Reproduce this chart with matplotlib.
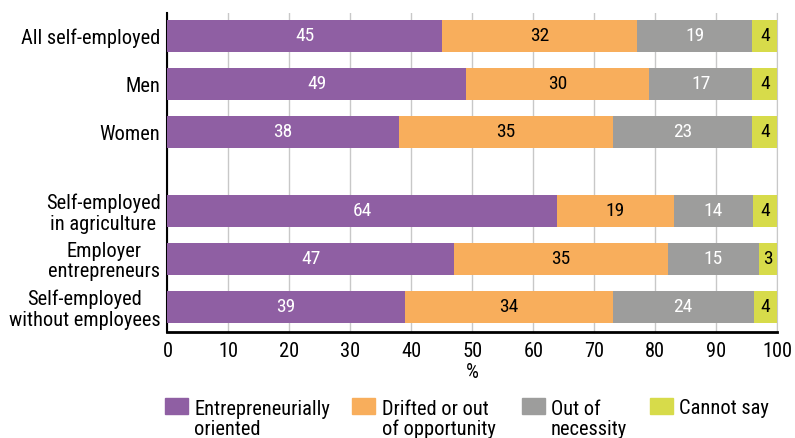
import matplotlib.pyplot as plt
from matplotlib.patches import Rectangle
import numpy as np

plt.rcParams['font.family'] = ['Roboto Condensed', 'DejaVu Sans']

groups = ['All self-employed', 'Men', 'Women',
          'Self-employed\nin agriculture', 'Employer\nentrepreneurs',
          'Self-employed\nwithout employees']
# bar lengths (%)
entrepreneurial = [45.0, 48.9, 37.9, 63.9, 47.0, 38.9]
drifted = [32.0, 30.1, 35.1, 19.1, 35.0, 34.1]
necessity = [18.9, 16.9, 22.9, 13.0, 15.0, 23.1]
cannot_say = [4.1, 4.1, 4.1, 4.0, 3.0, 3.9]
# numbers printed on the bars
entrepreneurial_lbl = [45, 49, 38, 64, 47, 39]
drifted_lbl = [32, 30, 35, 19, 35, 34]
necessity_lbl = [19, 17, 23, 14, 15, 24]
cannot_say_lbl = [4, 4, 4, 4, 3, 4]

series_names = ['Entrepreneurially\noriented', 'Drifted or out\nof opportunity',
                'Out of\nnecessity', 'Cannot say']
colors = ['#8F5FA3', '#F8AE5C', '#9D9D9C', '#D7DB4A']
text_colors = ['white', 'black', 'white', 'black']

W, H = 795, 438
FS = 14.7
fig = plt.figure(figsize=(W / 100, H / 100), dpi=100)
ax = fig.add_axes([167.4 / W, 1 - 332 / H, (777.3 - 167.4) / W, (332 - 13) / H])

ypos = np.array([0, 1, 2, 3.63, 4.63, 5.63])
left = np.zeros(len(groups))
for vals, lbls, col, tcol in zip([entrepreneurial, drifted, necessity, cannot_say],
                                 [entrepreneurial_lbl, drifted_lbl, necessity_lbl, cannot_say_lbl],
                                 colors, text_colors):
    bars = ax.barh(ypos, vals, left=left, height=0.66, color=col, zorder=3)
    ax.bar_label(bars, labels=[str(v) for v in lbls], label_type='center',
                 color=tcol, fontsize=14)
    left += np.array(vals)

ax.set_xlim(0, 100)
ax.set_ylim(6.15, -0.48)
ax.set_xticks(range(0, 101, 10))
ax.set_yticks(ypos)
ax.set_yticklabels(groups, fontsize=FS, multialignment='center', linespacing=1.1)
ax.tick_params(axis='x', labelsize=FS, length=0, pad=7)
ax.tick_params(axis='y', length=0, pad=5)
ax.grid(axis='x', color='#c8c8c8', linewidth=1, zorder=0)
ax.set_xlabel('%', fontsize=FS, labelpad=2)

ax.spines['top'].set_visible(False)
ax.spines['right'].set_color('#c8c8c8')
ax.spines['left'].set_linewidth(1.5)
ax.spines['bottom'].set_linewidth(2)

# legend drawn by hand so the swatch sits on the first text line
leg_x = [165, 352, 522, 650]
txt_x = [194, 382, 551, 679]
for x, tx, name, col in zip(leg_x, txt_x, series_names, colors):
    fig.patches.append(Rectangle((x / W, 1 - 414 / H), 23 / W, 16 / H,
                                 transform=fig.transFigure, color=col))
    n_extra = name.count('\n')
    fig.text(tx / W, 1 - (414 + 21 * n_extra) / H, name, fontsize=FS,
             va='baseline', ha='left', linespacing=1.05)

fig.savefig('out.png', dpi=100)
